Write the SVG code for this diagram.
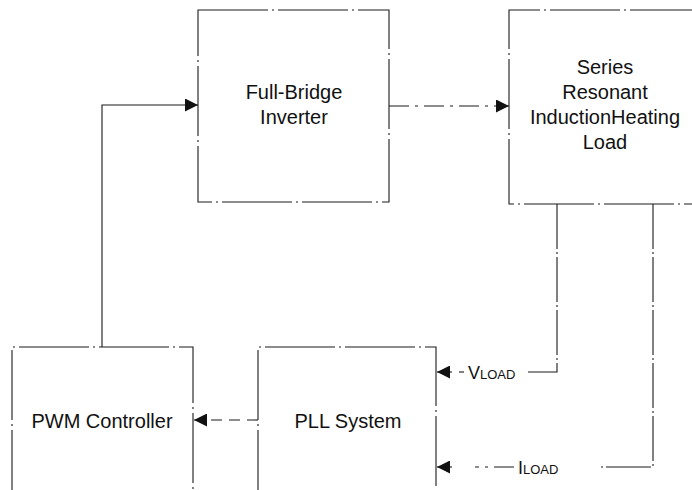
<svg xmlns="http://www.w3.org/2000/svg" width="692" height="490" viewBox="0 0 692 490">
  <style>
    .box { fill: none; stroke: #1a1a1a; stroke-width: 1.1; stroke-dasharray: 70 4 2 4; }
    .wire { fill: none; stroke: #1a1a1a; stroke-width: 1.1; }
    .dd { stroke-dasharray: 20 6 3 6; }
    .long { stroke-dasharray: 45 3 2 3; }
    .ds { stroke-dasharray: 11 7; }
    .lbl { font-family: "Liberation Sans", Arial, sans-serif; font-size: 20px; fill: #111; text-anchor: middle; }
    .sig { font-family: "Liberation Sans", Arial, sans-serif; font-size: 18px; fill: #111; }
    .sc { font-size: 13px; }
  </style>
  <defs>
    <marker id="arrow" viewBox="0 0 10 10" refX="10" refY="5" markerWidth="15" markerHeight="13" markerUnits="userSpaceOnUse" orient="auto">
      <path d="M0,0 L10,5 L0,10 Z" fill="#111"/>
    </marker>
  </defs>

  <g id="full-bridge">
    <rect class="box" x="198" y="10" width="191" height="192"/>
    <text class="lbl" x="294" y="99">Full-Bridge</text>
    <text class="lbl" x="294" y="124">Inverter</text>
  </g>

  <g id="load">
    <path class="box" d="M700,10 H509 V204 H700"/>
    <text class="lbl" x="605" y="74">Series</text>
    <text class="lbl" x="605" y="99">Resonant</text>
    <text class="lbl" x="605" y="124">InductionHeating</text>
    <text class="lbl" x="605" y="149">Load</text>
  </g>

  <g id="pwm">
    <path class="box" d="M12,500 V347 H193 V500"/>
    <text class="lbl" x="102" y="428">PWM Controller</text>
  </g>

  <g id="pll">
    <path class="box" d="M258,500 V347 H436 V500"/>
    <text class="lbl" x="348" y="428">PLL System</text>
  </g>

  <g id="connectors">
    <path class="wire" d="M102,347 V105 H198" marker-end="url(#arrow)"/>
    <path class="wire dd" d="M389,106 H509" marker-end="url(#arrow)"/>
    <path class="wire ds" d="M258,420 H194" marker-end="url(#arrow)"/>
    <path class="wire long" d="M557,204 V372 H528"/>
    <path class="wire" d="M464,372 H459"/>
    <path class="wire" d="M452,372 H437" marker-end="url(#arrow)"/>
    <path class="wire long" d="M653,204 V467 H598"/>
    <path class="wire dd" d="M514,467 H475"/>
    <path class="wire" d="M452,467 H437" marker-end="url(#arrow)"/>
    <text class="sig" x="468" y="379">V<tspan class="sc">LOAD</tspan></text>
    <text class="sig" x="518" y="474">I<tspan class="sc">LOAD</tspan></text>
  </g>
</svg>
